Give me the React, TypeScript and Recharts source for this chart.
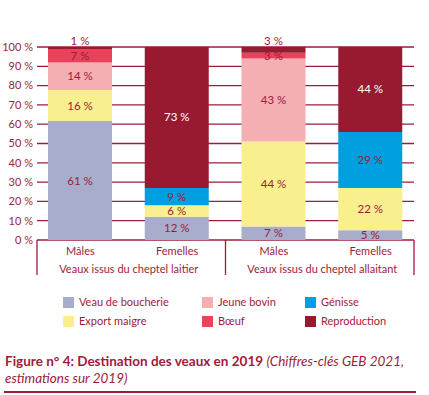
import React from 'react';
import { BarChart, Bar, XAxis, YAxis, CartesianGrid, LabelList } from 'recharts';

const categories = ['Mâles', 'Femelles', 'Mâles', 'Femelles'];
const groups = [
  'Veaux issus du cheptel laitier',
  'Veaux issus du cheptel laitier',
  'Veaux issus du cheptel allaitant',
  'Veaux issus du cheptel allaitant',
];
const veauDeBoucherie = [61, 12, 7, 5];
const exportMaigre = [16, 6, 44, 22];
const jeuneBovin = [14, 0, 43, 0];
const genisse = [0, 9, 0, 29];
const boeuf = [7, 0, 3, 0];
const reproduction = [1, 73, 3, 44];
const yTicks = [0, 0.1, 0.2, 0.3, 0.4, 0.5, 0.6, 0.7, 0.8, 0.9, 1];

const RED = '#9e1b3b';
const FONT = 'Lato, "Open Sans", sans-serif';

const series = [
  { key: 'veau', name: 'Veau de boucherie', color: '#a7adcb', text: RED, values: veauDeBoucherie },
  { key: 'export', name: 'Export maigre', color: '#f9ef8e', text: RED, values: exportMaigre },
  { key: 'jeune', name: 'Jeune bovin', color: '#f5aeb1', text: RED, values: jeuneBovin },
  { key: 'genisse', name: 'Génisse', color: '#009fe0', text: RED, values: genisse },
  { key: 'boeuf', name: 'Bœuf', color: '#e7445b', text: RED, values: boeuf },
  { key: 'repro', name: 'Reproduction', color: '#981a31', text: '#ffffff', values: reproduction },
];

const legendOrder = ['veau', 'jeune', 'genisse', 'export', 'boeuf', 'repro'];

const data = categories.map((c, i) => {
  const row: any = { cat: c, group: groups[i] };
  series.forEach((s) => {
    row[s.key] = s.values[i];
  });
  return row;
});

const makeLabel = (color: string, aboveWhenSmall: boolean) => (props: any) => {
  const { x, y, width, height, value } = props;
  if (!value) return null;
  const cx = Number(x) + Number(width) / 2;
  let cy = Number(y) + Number(height) / 2;
  let fill = color;
  if (aboveWhenSmall && value < 5) {
    cy = Number(y) - 6;
    fill = RED;
  }
  return (
    <text x={cx} y={cy} dy="0.35em" textAnchor="middle" fill={fill} fontSize={11.5} fontFamily={FONT}>
      {value} %
    </text>
  );
};

const YTick = (props: any) => {
  const { x, y, payload } = props;
  return (
    <text x={x + 1} y={y} dy="0.35em" textAnchor="end" fill={RED} fontSize={11} fontFamily={FONT}>
      {Math.round(payload.value * 100)} %
    </text>
  );
};

const CatTick = (props: any) => {
  const { x, y, payload } = props;
  return (
    <text x={x} y={y + 11} dy="0.35em" textAnchor="middle" fill={RED} fontSize={11} fontFamily={FONT}>
      {payload.value}
    </text>
  );
};

const GroupTick = (props: any) => {
  const { x, y, payload, index } = props;
  const half = payload && payload.offset ? payload.offset : 48.4;
  const top = y - 18;
  const bottom = y + 17;
  const els: any[] = [];
  if (index === 0 || index === 2) {
    els.push(
      <text key="t" x={x + half} y={y + 11} dy="0.35em" textAnchor="middle" fill={RED} fontSize={11} fontFamily={FONT}>
        {payload.value}
      </text>
    );
  }
  if (index === 0) els.push(<line key="l0" x1={x - half + 5} x2={x - half + 5} y1={top} y2={bottom} stroke={RED} strokeWidth={1.3} />);
  if (index === 2) els.push(<line key="l2" x1={x - half} x2={x - half} y1={top} y2={bottom} stroke={RED} strokeWidth={1.3} />);
  if (index === 3) els.push(<line key="l3" x1={x + half - 5} x2={x + half - 5} y1={top} y2={bottom} stroke={RED} strokeWidth={1.3} />);
  return <g>{els}</g>;
};

const GridLine = (props: any) => {
  const { x1, x2, y1, y2 } = props;
  return <line x1={x1 + 5} x2={x2 - 5} y1={y1} y2={y2} stroke={RED} strokeWidth={1.3} />;
};

export default function App() {
  const byKey: any = {};
  series.forEach((s) => (byKey[s.key] = s));
  return (
    <div style={{ position: 'absolute', left: 0, top: 0, width: 429, height: 395, background: '#fff', fontFamily: FONT }}>
      <BarChart
        width={429}
        height={280}
        data={data}
        stackOffset="expand"
        margin={{ top: 47, right: 10, bottom: 2, left: 0 }}
        barSize={64}
      >
        <CartesianGrid vertical={false} horizontal={GridLine as any} />
        <YAxis
          type="number"
          domain={[0, 1]}
          ticks={yTicks}
          width={32}
          axisLine={false}
          tickLine={false}
          tickSize={0}
          tickMargin={0}
          tick={YTick}
          interval={0}
        />
        <XAxis dataKey="cat" height={18} axisLine={false} tickLine={false} tickSize={0} tickMargin={0} tick={CatTick} interval={0} />
        <XAxis
          dataKey="group"
          xAxisId="g"
          height={20}
          axisLine={false}
          tickLine={false}
          tickSize={0}
          tickMargin={0}
          tick={GroupTick}
          interval={0}
          allowDuplicatedCategory={true}
        />
        {series.map((s) => (
          <Bar key={s.key} dataKey={s.key} name={s.name} stackId="a" fill={s.color} isAnimationActive={false}>
            <LabelList dataKey={s.key} content={makeLabel(s.text, s.key === 'repro')} />
          </Bar>
        ))}
      </BarChart>
      {legendOrder.map((k, i) => {
        const s = byKey[k];
        const col = i % 3;
        const row = Math.floor(i / 3);
        const sx = [63, 202, 305][col];
        const cy = [302, 321][row];
        return (
          <div key={k}>
            <div style={{ position: 'absolute', left: sx, top: cy - 5.5, width: 11, height: 11, background: s.color }} />
            <div
              style={{
                position: 'absolute',
                left: sx + 16,
                top: cy - 8,
                height: 16,
                lineHeight: '16px',
                fontSize: 11,
                color: RED,
                whiteSpace: 'nowrap',
              }}
            >
              {s.name}
            </div>
          </div>
        );
      })}
      <div
        style={{
          position: 'absolute',
          left: 5,
          top: 353,
          fontSize: 13.5,
          lineHeight: '17px',
          color: RED,
          whiteSpace: 'nowrap',
        }}
      >
        <span style={{ fontWeight: 700 }}>Figure n° 4: Destination des veaux en 2019</span>{' '}
        <span style={{ fontStyle: 'italic' }}>(Chiffres-clés GEB 2021,</span>
      </div>
      <div
        style={{
          position: 'absolute',
          left: 5,
          top: 370,
          fontSize: 13.5,
          lineHeight: '17px',
          color: RED,
          fontStyle: 'italic',
          whiteSpace: 'nowrap',
        }}
      >
        estimations sur 2019)
      </div>
      <div style={{ position: 'absolute', left: 4, top: 391, width: 412, height: 2, background: RED }} />
    </div>
  );
}
